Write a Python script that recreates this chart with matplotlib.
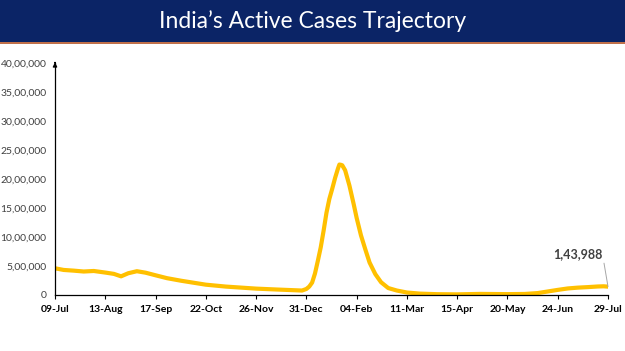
import matplotlib.pyplot as plt
import matplotlib.dates as mdates
from matplotlib.patches import Rectangle
from matplotlib.ticker import FuncFormatter
import pandas as pd

# active cases, 9 Jul 2021 - 29 Jul 2022
dates = ["2021-07-09", "2021-07-15", "2021-07-22", "2021-07-29", "2021-08-05",
         "2021-08-13", "2021-08-19", "2021-08-24", "2021-08-29", "2021-09-04",
         "2021-09-10", "2021-09-17", "2021-09-25", "2021-10-05", "2021-10-22",
         "2021-11-05", "2021-11-26", "2021-12-10", "2021-12-28", "2021-12-31",
         "2022-01-02", "2022-01-04", "2022-01-06", "2022-01-08", "2022-01-10",
         "2022-01-12", "2022-01-14", "2022-01-16", "2022-01-18", "2022-01-20",
         "2022-01-22", "2022-01-23", "2022-01-24", "2022-01-25", "2022-01-27",
         "2022-01-30", "2022-02-02", "2022-02-04", "2022-02-07", "2022-02-10",
         "2022-02-13", "2022-02-17", "2022-02-21", "2022-02-26",
         "2022-03-04", "2022-03-11", "2022-03-20", "2022-04-01", "2022-04-15",
         "2022-05-01", "2022-05-20", "2022-06-01", "2022-06-10", "2022-06-24",
         "2022-07-01", "2022-07-08", "2022-07-15", "2022-07-22", "2022-07-26",
         "2022-07-29"]
active = [460704, 432000, 420000, 405000, 414000,
          387000, 364000, 322000, 375000, 410000,
          385000, 340000, 290000, 245000, 178000,
          145000, 110000, 95000, 77000, 104000,
          145000, 214000, 371000, 590000, 821000,
          1108000, 1418000, 1656000, 1831000, 2018000,
          2180000, 2249000, 2245000, 2236000, 2150000,
          1885000, 1560000, 1330000, 1030000, 790000,
          560000, 360000, 220000, 120000,
          77000, 43000, 24000, 14000, 11000,
          19000, 15000, 18000, 33000, 88000,
          113000, 127000, 136000, 147000, 150000,
          143988]

tick_dates = ["2021-07-09", "2021-08-13", "2021-09-17", "2021-10-22", "2021-11-26",
              "2021-12-31", "2022-02-04", "2022-03-11", "2022-04-15", "2022-05-20",
              "2022-06-24", "2022-07-29"]
y_ticks = [0, 500000, 1000000, 1500000, 2000000, 2500000, 3000000, 3500000, 4000000]


def indian(v, pos=None):
    v = int(v)
    if v == 0:
        return "0"
    s = str(v)
    last3, rest = s[-3:], s[:-3]
    parts = []
    while len(rest) > 2:
        parts.insert(0, rest[-2:])
        rest = rest[:-2]
    if rest:
        parts.insert(0, rest)
    return ",".join(parts + [last3])


x = pd.to_datetime(dates)
ticks = pd.to_datetime(tick_dates)

fig = plt.figure(figsize=(6.25, 3.51), dpi=100)
fig.patches.append(Rectangle((0, 1 - 42 / 351), 1, 42 / 351, transform=fig.transFigure,
                             facecolor="#0b2466", edgecolor="none", zorder=0))
fig.patches.append(Rectangle((0, 1 - 44 / 351), 1, 2 / 351, transform=fig.transFigure,
                             facecolor="#c0704a", edgecolor="none", zorder=0))
fig.text(0.5, 1 - 21 / 351, "India\u2019s Active Cases Trajectory", color="white",
         ha="center", va="center", fontsize=16.5, family="Lato")

ax = fig.add_axes([55 / 625, 1 - 295 / 351, (608 - 55) / 625, (295 - 63) / 351])
ax.plot(x, active, color="#ffc000", lw=3.0, solid_capstyle="round", solid_joinstyle="round")

ax.set_xlim(ticks[0], ticks[-1])
ax.set_ylim(0, 4000000)
ax.set_xticks(ticks)
ax.xaxis.set_major_formatter(mdates.DateFormatter("%d-%b"))
ax.set_yticks(y_ticks)
ax.yaxis.set_major_formatter(FuncFormatter(indian))

for s in ["top", "right"]:
    ax.spines[s].set_visible(False)
for s in ["left", "bottom"]:
    ax.spines[s].set_color("black")
    ax.spines[s].set_linewidth(0.9)
ax.tick_params(axis="x", length=3, width=0.8, pad=4, labelsize=7.5, colors="black")
ax.tick_params(axis="y", length=0, pad=6, labelsize=7.5, labelcolor="#404040")
for lab in ax.get_xticklabels():
    lab.set_fontweight("bold")
    lab.set_family("Lato")
for lab in ax.get_yticklabels():
    lab.set_family("Lato")

ax.annotate("", xy=(0, 1.015), xytext=(0, 0.99), xycoords="axes fraction",
            arrowprops=dict(arrowstyle="-|>", color="black", lw=0.9,
                            mutation_scale=6), annotation_clip=False)

ax.annotate(indian(active[-1]), xy=(x[-1], active[-1]),
            xytext=(x[-1] - pd.Timedelta(days=21), 700000),
            fontsize=9, family="Lato", fontweight="bold", color="#404040",
            ha="center", va="center",
            arrowprops=dict(arrowstyle="-", color="#a6a6a6", lw=0.7,
                            relpos=(1, 0.5), shrinkA=0, shrinkB=0),
            annotation_clip=False)

fig.savefig("out.png", dpi=100)
